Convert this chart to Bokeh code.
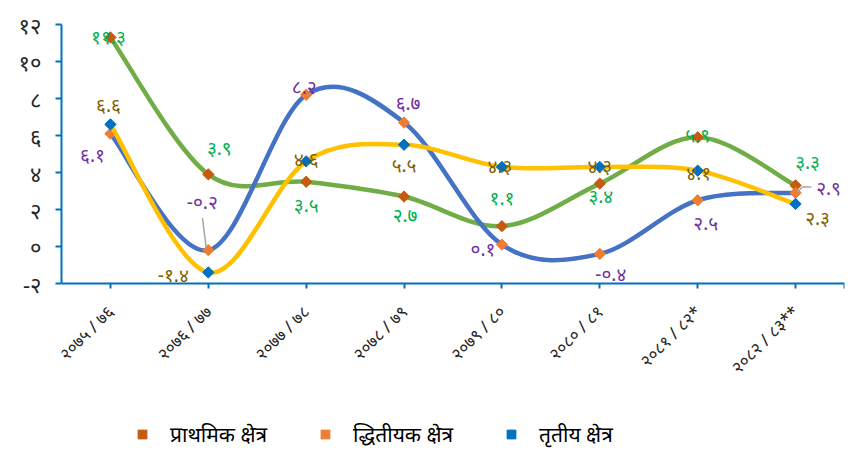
import math
from bokeh.plotting import figure
from bokeh.models import FixedTicker, Legend, LegendItem, ColumnDataSource, Range1d
from bokeh.core.properties import value
from bokeh.embed import file_html
from bokeh.resources import INLINE

# ---------------- data ----------------
categories = ["२०७५ / ७६", "२०७६ / ७७", "२०७७ / ७८", "२०७८ / ७९",
              "२०७९ / ८०", "२०८० / ८१", "२०८१ / ८२*", "२०८२ / ८३**"]
primary = [11.3, 3.9, 3.5, 2.7, 1.1, 3.4, 5.9, 3.3]
secondary = [6.1, -0.2, 8.2, 6.7, 0.1, -0.4, 2.5, 2.9]
tertiary = [6.6, -1.4, 4.6, 5.5, 4.3, 4.3, 4.1, 2.3]
series_names = ["प्राथमिक क्षेत्र", "द्धितीयक क्षेत्र", "तृतीय क्षेत्र"]
y_ticks = [-2, 0, 2, 4, 6, 8, 10, 12]
y_tick_labels = ["-२", "०", "२", "४", "६", "८", "१०", "१२"]
Y_MIN, Y_MAX = -2, 12

# ---------------- styles ----------------
FONT = "Noto Sans"
line_colors = ["#70AD47", "#4472C4", "#FFC000"]
marker_colors = ["#C55A11", "#ED7D31", "#0070C0"]
label_colors = ["#00B050", "#7030A0", "#7F6000"]
# label offsets in screen pixels (dx, dy; dy positive = down)
label_offsets = [
    [(-2, 0), (11, -26), (0, 23), (1, 18), (0, -28), (1, 12), (0, -2), (12, -23)],
    [(-18, 21), (-6, -48), (-2, -8), (4, -20), (-19, 4), (11, 20), (8, 23), (33, -5)],
    [(-2, -19), (-35, 3), (0, -2), (0, 20), (-2, -1), (0, -1), (1, 2), (22, 14)],
]
AXIS_BLUE = "#0070C0"

# layout (pixels)
TOP = 24
PLOT_H = 259          # height of the -2..12 value band
FRAME_H = 427         # frame extends down to page bottom so the legend fits inside
LEFT = 61
FRAME_W = 783

DEV = "०१२३४५६७८९"


def to_dev(v):
    s = f"{v:.1f}"
    return "".join(DEV[int(c)] if c.isdigit() else c for c in s)


def bezier_source(ys):
    n = len(ys)
    pts = [(float(i), float(y)) for i, y in enumerate(ys)]
    d = dict(x0=[], y0=[], x1=[], y1=[], cx0=[], cy0=[], cx1=[], cy1=[])
    for i in range(n - 1):
        p0 = pts[i - 1] if i > 0 else pts[i]
        p1 = pts[i]
        p2 = pts[i + 1]
        p3 = pts[i + 2] if i + 2 < n else pts[i + 1]
        d["x0"].append(p1[0]); d["y0"].append(p1[1])
        d["x1"].append(p2[0]); d["y1"].append(p2[1])
        d["cx0"].append(p1[0] + (p2[0] - p0[0]) / 6)
        d["cy0"].append(p1[1] + (p2[1] - p0[1]) / 6)
        d["cx1"].append(p2[0] - (p3[0] - p1[0]) / 6)
        d["cy1"].append(p2[1] - (p3[1] - p1[1]) / 6)
    return ColumnDataSource(d)


units_per_px = (Y_MAX - Y_MIN) / PLOT_H
y_start = Y_MIN - (FRAME_H - PLOT_H) * units_per_px

p = figure(width=856, height=451, output_backend="svg", toolbar_location=None,
           x_range=Range1d(-0.5, 7.5), y_range=Range1d(y_start, Y_MAX),
           min_border_left=LEFT, min_border_right=12, min_border_top=TOP,
           min_border_bottom=0)
p.frame_width = FRAME_W
p.frame_height = FRAME_H
p.outline_line_color = None
p.xgrid.visible = False
p.ygrid.visible = False
p.background_fill_color = "white"
p.border_fill_color = "white"

# axes
p.yaxis.ticker = FixedTicker(ticks=y_ticks)
p.yaxis.major_label_overrides = {t: l for t, l in zip(y_ticks, y_tick_labels)}
p.yaxis.bounds = (Y_MIN, Y_MAX)
p.xaxis.ticker = FixedTicker(ticks=list(range(len(categories))) + [len(categories) - 0.5])
xo = {i: c for i, c in enumerate(categories)}
xo[len(categories) - 0.5] = ""
p.xaxis.major_label_overrides = xo
p.xaxis.major_label_orientation = math.pi / 4
p.xaxis.fixed_location = Y_MIN
for ax in (p.xaxis, p.yaxis):
    ax.axis_line_color = AXIS_BLUE
    ax.axis_line_width = 2
    ax.major_tick_line_color = AXIS_BLUE
    ax.major_tick_line_width = 2
    ax.major_tick_in = 0
    ax.minor_tick_line_color = None
    ax.major_label_text_font = FONT
p.yaxis.major_tick_out = 6
p.yaxis.major_label_standoff = 14
p.yaxis.major_label_text_font_size = "22px"
p.yaxis.major_label_text_color = "#262626"
p.xaxis.major_tick_out = 5
p.xaxis.major_label_standoff = 20
p.xaxis.major_label_text_font_size = "17px"
p.xaxis.major_label_text_color = "#262626"

legend_items = []
all_series = [primary, secondary, tertiary]
for k, ys in enumerate(all_series):
    src = bezier_source(ys)
    p.bezier(x0="x0", y0="y0", x1="x1", y1="y1", cx0="cx0", cy0="cy0",
             cx1="cx1", cy1="cy1", source=src, line_color=line_colors[k],
             line_width=4.5, line_cap="round")
    leg_line = p.line(x=[], y=[], line_color=line_colors[k], line_width=4.5,
                      line_cap="round")
    sc = p.scatter(x=list(range(len(ys))), y=ys, marker="square", angle=math.pi / 4,
                   size=8, fill_color=marker_colors[k], line_color=marker_colors[k])
    legend_items.append(LegendItem(label=series_names[k], renderers=[leg_line, sc]))

# leader lines (from label toward point), offsets in data units derived from data points
p.segment(x0=[1 - 0.06], y0=[secondary[1] + 1.75], x1=[1 - 0.02], y1=[secondary[1] + 0.1],
          line_color="#A6A6A6", line_width=1.5)
p.segment(x0=[7 + 0.02, 7 + 0.07], y0=[secondary[7] + 0.05, secondary[7] + 0.32],
          x1=[7 + 0.07, 7 + 0.16], y1=[secondary[7] + 0.32, secondary[7] + 0.32],
          line_color="#A6A6A6", line_width=1.5)

# data labels
for k, ys in enumerate(all_series):
    lsrc = ColumnDataSource(dict(
        x=list(range(len(ys))), y=ys, t=[to_dev(v) for v in ys],
        dx=[o[0] for o in label_offsets[k]], dy=[o[1] for o in label_offsets[k]]))
    p.text(x="x", y="y", text="t", x_offset="dx", y_offset="dy", source=lsrc,
           text_align="center", text_baseline="middle", text_color=label_colors[k],
           text_font=value(FONT), text_font_size="19px")

legend = Legend(items=legend_items, orientation="horizontal", location=(55, 3),
                label_text_font=FONT, label_text_font_size="21px",
                label_text_color="#000000", glyph_width=52, glyph_height=22,
                label_standoff=2, spacing=32, padding=2, margin=0,
                border_line_color=None, background_fill_alpha=0)
p.add_layout(legend, "center")

open("out.html", "w").write(file_html(p, INLINE))
